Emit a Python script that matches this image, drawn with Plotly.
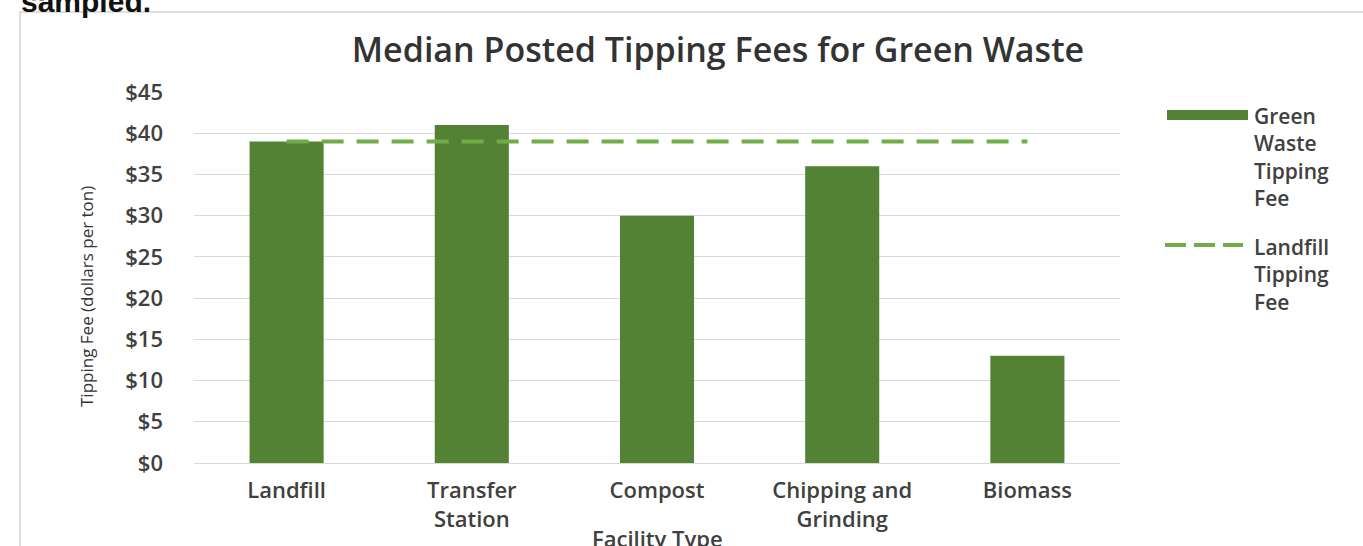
import plotly.graph_objects as go

# ---- data ----
categories = ["Landfill", "Transfer<br>Station", "Compost", "Chipping and<br>Grinding", "Biomass"]
green_waste_fee = [39, 41, 30, 36, 13]
landfill_fee = [39, 39, 39, 39, 39]
y_ticks = [0, 5, 10, 15, 20, 25, 30, 35, 40, 45]
y_tick_labels = ["$0", "$5", "$10", "$15", "$20", "$25", "$30", "$35", "$40", "$45"]

# ---- layout geometry (pixels) ----
W, H = 1363, 546
L, R, T, B = 194, 1120, 92, 463


def px(x):
    return (x - L) / (R - L)


def py(y):
    return (B - y) / (B - T)


BAR = "#548235"
DASH = "#70AD47"
TXT = "#404040"
FONT = "Open Sans"

fig = go.Figure()
fig.add_trace(go.Bar(x=categories, y=green_waste_fee, marker_color=BAR,
                     marker_line_width=0, name="Green Waste Tipping Fee"))
fig.add_trace(go.Scatter(x=categories, y=landfill_fee, mode="lines",
                         line=dict(color=DASH, width=4, dash="22px,13px"),
                         name="Landfill Tipping Fee"))

fig.update_layout(
    width=W, height=H,
    margin=dict(l=L, r=W - R, t=T, b=H - B, autoexpand=False),
    paper_bgcolor="white", plot_bgcolor="white",
    showlegend=False,
    bargap=0.6,
    font=dict(family=FONT, color=TXT),
    title=dict(text="Median Posted Tipping Fees for Green Waste",
               x=718 / W, xref="container", xanchor="center",
               y=1 - 50 / H, yref="container", yanchor="middle",
               font=dict(family=FONT, size=34, color="#333333", weight=600)),
)
fig.update_yaxes(range=[0, 45], tickvals=y_ticks, ticktext=y_tick_labels,
                 showgrid=True, gridcolor="#d9d9d9", gridwidth=1,
                 zeroline=True, zerolinecolor="#d9d9d9", zerolinewidth=1,
                 showline=False, ticks="", ticklabelstandoff=30, automargin=False,
                 tickfont=dict(family=FONT, size=22, color=TXT, weight=600),
                 fixedrange=True)
fig.update_xaxes(showgrid=False, showline=False, ticks="", ticklabelstandoff=12,
                 automargin=False,
                 tickfont=dict(family=FONT, size=22, color=TXT, weight=600))

shapes = [
    # outer frame
    dict(type="rect", xref="paper", yref="paper",
         x0=px(20), x1=px(1375), y0=py(560), y1=py(12),
         line=dict(color="#d4d4d4", width=1.5), fillcolor="rgba(0,0,0,0)", layer="below"),
    # legend symbols
    dict(type="rect", xref="paper", yref="paper",
         x0=px(1167), x1=px(1248), y0=py(120), y1=py(110),
         line=dict(width=0), fillcolor=BAR),
    dict(type="line", xref="paper", yref="paper",
         x0=px(1165), x1=px(1243), y0=py(245), y1=py(245),
         line=dict(color=DASH, width=4, dash="21px,8px")),
]

annotations = [
    dict(text="Facility Type", xref="paper", yref="paper",
         x=0.5, y=py(538), xanchor="center", yanchor="middle", showarrow=False,
         font=dict(family=FONT, size=22, color=TXT, weight=600)),
    dict(text="Tipping Fee (dollars per ton)", textangle=-90,
         xref="paper", yref="paper", x=px(86), y=py(297),
         xanchor="center", yanchor="middle", showarrow=False,
         font=dict(family=FONT, size=17, color="#333333")),
    dict(text="Green<br>Waste<br>Tipping<br>Fee", xref="paper", yref="paper",
         x=px(1252), y=py(100), xanchor="left", yanchor="top", align="left",
         showarrow=False, font=dict(family=FONT, size=21, color=TXT, weight=600)),
    dict(text="Landfill<br>Tipping<br>Fee", xref="paper", yref="paper",
         x=px(1252), y=py(231), xanchor="left", yanchor="top", align="left",
         showarrow=False, font=dict(family=FONT, size=21, color=TXT, weight=600)),
    dict(text="<b>sampled.</b>", xref="paper", yref="paper",
         x=px(19), y=py(20), xanchor="left", yanchor="bottom", align="left",
         showarrow=False, font=dict(family="Liberation Sans", size=30, color="#111111")),
]
fig.update_layout(shapes=shapes, annotations=annotations)

fig.write_html("out.html")
